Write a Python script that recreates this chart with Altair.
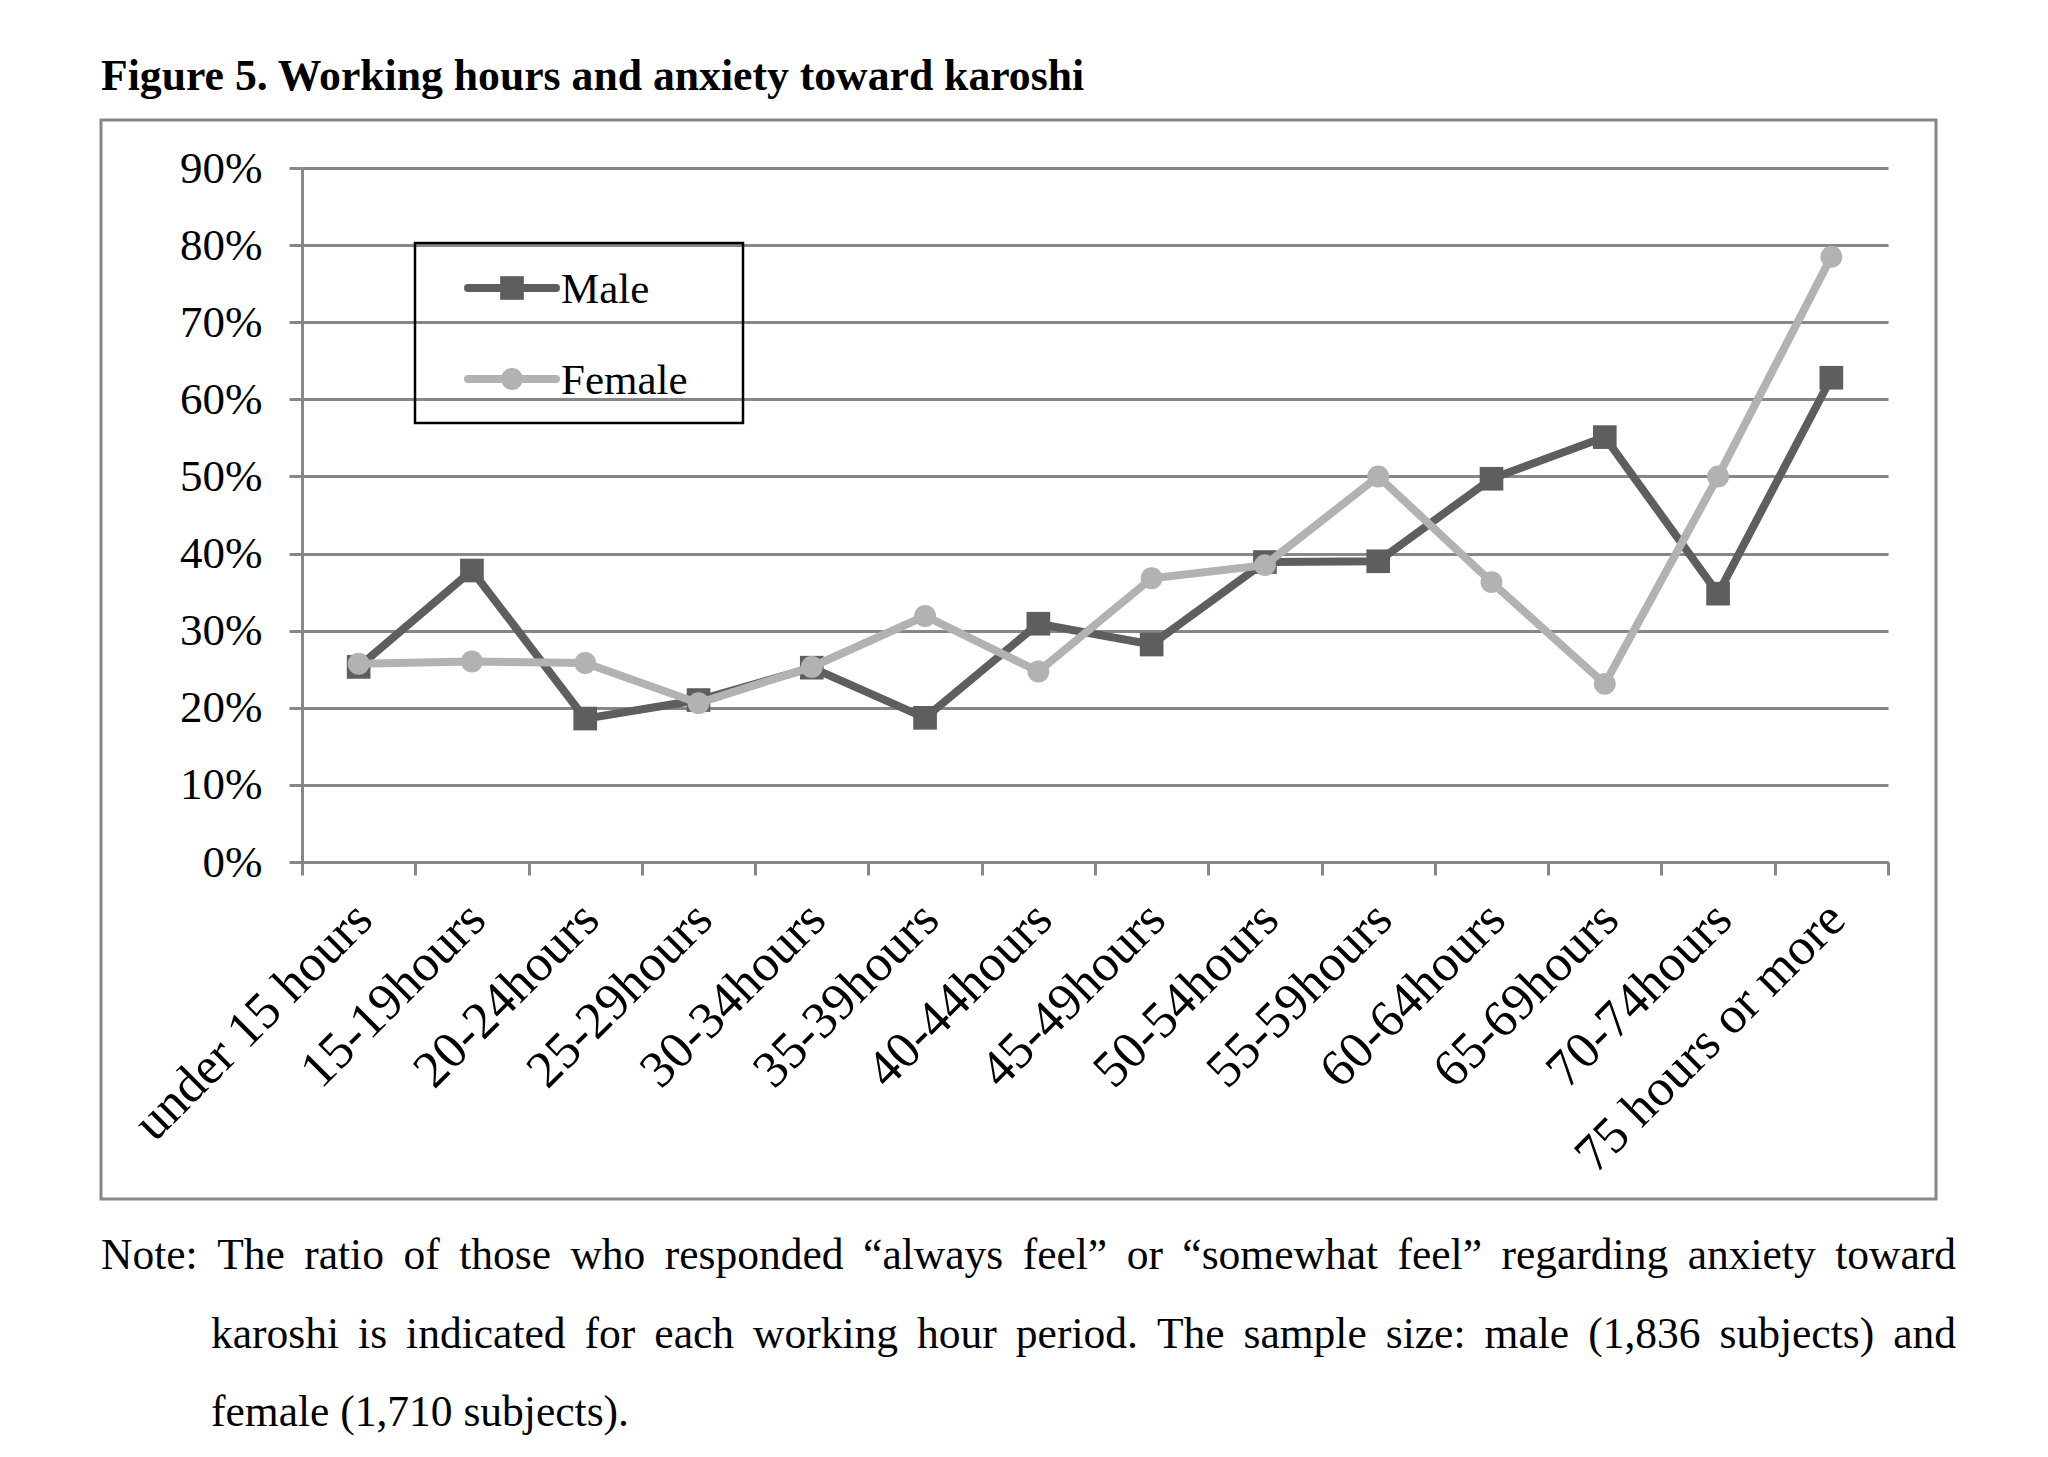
import altair as alt
import pandas as pd

categories = ["under 15 hours", "15-19hours", "20-24hours", "25-29hours", "30-34hours",
              "35-39hours", "40-44hours", "45-49hours", "50-54hours", "55-59hours",
              "60-64hours", "65-69hours", "70-74hours", "75 hours or more"]
male = [0.253, 0.378, 0.186, 0.210, 0.252, 0.187, 0.309, 0.282, 0.389, 0.390,
        0.497, 0.551, 0.348, 0.628]
female = [0.257, 0.260, 0.258, 0.206, 0.253, 0.319, 0.247, 0.368, 0.385, 0.500,
          0.363, 0.231, 0.500, 0.785]
series_names = ["Male", "Female"]
y_ticks = [0, 0.1, 0.2, 0.3, 0.4, 0.5, 0.6, 0.7, 0.8, 0.9]

title_text = "Figure 5. Working hours and anxiety toward karoshi"
note_lines = [
    "Note: The ratio of those who responded \u201calways feel\u201d or \u201csomewhat feel\u201d regarding anxiety toward",
    "karoshi is indicated for each working hour period. The sample size: male (1,836 subjects) and",
    "female (1,710 subjects).",
]

MALE_C = "#5e5e5e"
FEMALE_C = "#b2b2b2"
GRID_C = "#878787"
SERIF = "Liberation Serif"

W, H = 1586, 694

df = pd.DataFrame({
    "cat": categories * 2,
    "val": male + female,
    "series": ["Male"] * len(categories) + ["Female"] * len(categories),
})

x_enc = alt.X("cat:N", sort=categories,
              scale=alt.Scale(type="band", paddingInner=0, paddingOuter=0),
              axis=alt.Axis(title=None, grid=False, tickBand="extent", tickSize=13,
                            tickWidth=3, tickColor=GRID_C, domainColor=GRID_C, domainWidth=3,
                            labelAngle=-45, labelAlign="right", labelBaseline="top",
                            labelFont=SERIF, labelFontSize=52, labelColor="black",
                            labelPadding=18, labelOffset=-13, labelLimit=1000))
y_enc = alt.Y("val:Q", scale=alt.Scale(domain=[0, 0.9], nice=False, zero=True),
              axis=alt.Axis(title=None, values=y_ticks, format=".0%", grid=True,
                            gridColor=GRID_C, gridWidth=3, tickSize=13, tickWidth=3,
                            tickColor=GRID_C, domainColor=GRID_C, domainWidth=3,
                            labelFont=SERIF, labelFontSize=45, labelColor="black",
                            labelPadding=27))

base = alt.Chart(df)
male_line = base.transform_filter(alt.datum.series == "Male").mark_line(
    color=MALE_C, strokeWidth=8).encode(x=x_enc, y=y_enc)
male_pts = base.transform_filter(alt.datum.series == "Male").mark_point(
    shape="square", filled=True, size=560, color=MALE_C, opacity=1).encode(x=x_enc, y=y_enc)
female_line = base.transform_filter(alt.datum.series == "Female").mark_line(
    color=FEMALE_C, strokeWidth=8).encode(x=x_enc, y=y_enc)
female_pts = base.transform_filter(alt.datum.series == "Female").mark_point(
    shape="circle", filled=True, size=480, color=FEMALE_C, opacity=1).encode(x=x_enc, y=y_enc)

one = pd.DataFrame({"k": [0]})

frame = alt.Chart(one).mark_rect(fillOpacity=0, stroke=GRID_C, strokeWidth=3).encode(
    x=alt.value(-201), x2=alt.value(1634), y=alt.value(-48), y2=alt.value(1031))

title = alt.Chart(one).mark_text(align="left", baseline="alphabetic", font=SERIF,
                                 fontSize=43.7, fontWeight="bold", color="black").encode(
    x=alt.value(-201), y=alt.value(-78), text=alt.value(title_text))

# legend
leg_box = alt.Chart(one).mark_rect(fillOpacity=0, fill="white", stroke="black", strokeWidth=2.5).encode(
    x=alt.value(113), x2=alt.value(441), y=alt.value(75), y2=alt.value(255))
leg_layers = [leg_box]
for name, col, shape, ly, sw, sz in [("Male", MALE_C, "square", 120, 8, 560),
                                     ("Female", FEMALE_C, "circle", 211, 8, 480)]:
    leg_layers.append(alt.Chart(one).mark_rule(color=col, strokeWidth=sw, strokeCap="round").encode(
        x=alt.value(166), x2=alt.value(254), y=alt.value(ly)))
    leg_layers.append(alt.Chart(one).mark_point(shape=shape, filled=True, size=sz, color=col,
                                                opacity=1).encode(x=alt.value(210), y=alt.value(ly)))
    leg_layers.append(alt.Chart(one).mark_text(align="left", baseline="middle", font=SERIF,
                                               fontSize=43, color="black").encode(
        x=alt.value(259), y=alt.value(ly + 2), text=alt.value(name)))

# note text, justified per word
TW = {" ": 250, "(": 333, ")": 333, ",": 250, ".": 250, ":": 278, "-": 333,
      "\u201c": 444, "\u201d": 444, "N": 722, "T": 611,
      "a": 444, "b": 500, "c": 444, "d": 500, "e": 444, "f": 333, "g": 500, "h": 500,
      "i": 278, "j": 278, "k": 500, "l": 278, "m": 778, "n": 500, "o": 500, "p": 500,
      "q": 500, "r": 333, "s": 389, "t": 278, "u": 500, "v": 500, "w": 722, "x": 500,
      "y": 500, "z": 444}
NOTE_FS = 43.5


def tw(s):
    return sum(TW.get(c, 500) for c in s) / 1000 * NOTE_FS


note_rows = []
note_left = [-201, -91, -91]
note_base = [1101, 1180, 1258]
note_right = 1654
for i, line in enumerate(note_lines):
    words = line.split(" ")
    if i < 2:
        widths = [tw(w) for w in words]
        gap = (note_right - note_left[i] - sum(widths)) / (len(words) - 1)
        xpos = note_left[i]
        for w, wd in zip(words, widths):
            note_rows.append({"w": w, "x": xpos, "y": note_base[i]})
            xpos += wd + gap
    else:
        note_rows.append({"w": line, "x": note_left[i], "y": note_base[i]})

note = alt.Chart(pd.DataFrame(note_rows)).mark_text(
    align="left", baseline="alphabetic", font=SERIF, fontSize=NOTE_FS, color="black").encode(
    x=alt.X("x:Q", scale=None, axis=None), y=alt.Y("y:Q", scale=None, axis=None), text="w:N")

chart = alt.layer(frame, male_line, male_pts, female_line, female_pts, title, *leg_layers, note).properties(
    width=W, height=H,
    autosize=alt.AutoSizeParams(type="none"),
    padding={"left": 294, "top": 160, "right": 100, "bottom": 580},
    background="white",
).configure_view(stroke=None)

chart.save("out.html", embed_options={"renderer": "svg", "actions": False})
